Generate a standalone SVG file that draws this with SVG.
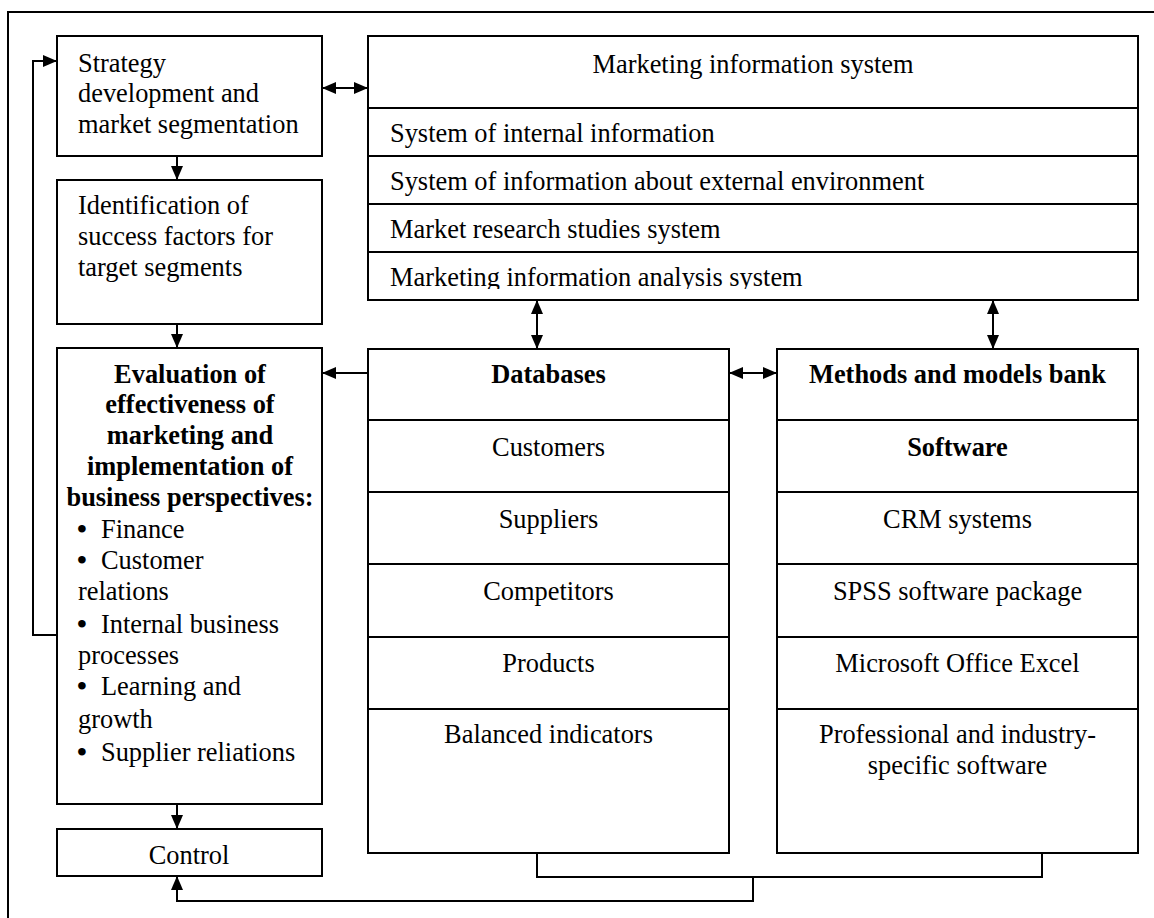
<svg xmlns="http://www.w3.org/2000/svg" width="1154" height="918" viewBox="0 0 1154 918">
<style>
  .box{fill:#fff;stroke:#000;stroke-width:2}
  .ln{stroke:#000;stroke-width:2;fill:none}
  text{font-family:"Liberation Serif","Times New Roman",serif;font-size:26.4px;fill:#000}
  .c{text-anchor:middle}
  .b{font-weight:bold}
  .bul{font-size:28px;font-weight:bold}
  .con{stroke:#000;stroke-width:2;fill:none}
  .a1{marker-end:url(#ah)}
  .a2{marker-end:url(#ah);marker-start:url(#ah)}
</style>
<defs>
  <marker id="ah" markerUnits="userSpaceOnUse" markerWidth="14" markerHeight="12" refX="14" refY="6" orient="auto-start-reverse">
    <path d="M0,0 L14,6 L0,12 z" fill="#000"/>
  </marker>
  <clipPath id="clipLast"><rect x="368" y="252" width="770" height="37"/></clipPath>
</defs>
<rect x="0" y="0" width="1154" height="918" fill="#fff"/>
<path class="ln" d="M8,918 V12 H1154"/>

<g id="strategy">
  <rect class="box" x="57" y="36" width="265" height="120"/>
  <text x="78" y="72">Strategy</text>
  <text x="78" y="102">development and</text>
  <text x="78" y="133">market segmentation</text>
</g>

<g id="identification">
  <rect class="box" x="57" y="180" width="265" height="144"/>
  <text x="78" y="214">Identification of</text>
  <text x="78" y="245">success factors for</text>
  <text x="78" y="276">target segments</text>
</g>

<g id="evaluation">
  <rect class="box" x="57" y="348" width="265" height="456"/>
  <text class="c b" x="190" y="383">Evaluation of</text>
  <text class="c b" x="190" y="413">effectiveness of</text>
  <text class="c b" x="190" y="444">marketing and</text>
  <text class="c b" x="190" y="475">implementation of</text>
  <text class="c b" x="190" y="506">business perspectives:</text>
  <text x="77" y="538"><tspan class="bul">•</tspan><tspan x="101">Finance</tspan></text>
  <text x="77" y="569"><tspan class="bul">•</tspan><tspan x="101">Customer</tspan></text>
  <text x="78" y="600">relations</text>
  <text x="77" y="633"><tspan class="bul">•</tspan><tspan x="101">Internal business</tspan></text>
  <text x="78" y="664">processes</text>
  <text x="77" y="695"><tspan class="bul">•</tspan><tspan x="101">Learning and</tspan></text>
  <text x="78" y="728">growth</text>
  <text x="77" y="761"><tspan class="bul">•</tspan><tspan x="101">Supplier reliations</tspan></text>
</g>

<g id="control">
  <rect class="box" x="57" y="829" width="265" height="47"/>
  <text class="c" x="189" y="864">Control</text>
</g>

<g id="mis">
  <rect class="box" x="368" y="36" width="770" height="264"/>
  <line class="ln" x1="368" y1="108" x2="1138" y2="108"/>
  <line class="ln" x1="368" y1="156" x2="1138" y2="156"/>
  <line class="ln" x1="368" y1="204" x2="1138" y2="204"/>
  <line class="ln" x1="368" y1="252" x2="1138" y2="252"/>
  <text class="c" x="753" y="73">Marketing information system</text>
  <text x="390" y="142">System of internal information</text>
  <text x="390" y="190">System of information about external environment</text>
  <text x="390" y="238">Market research studies system</text>
  <text x="390" y="286" clip-path="url(#clipLast)">Marketing information analysis system</text>
</g>

<g id="databases">
  <rect class="box" x="368" y="349" width="361" height="504"/>
  <line class="ln" x1="368" y1="420" x2="729" y2="420"/>
  <line class="ln" x1="368" y1="492" x2="729" y2="492"/>
  <line class="ln" x1="368" y1="564" x2="729" y2="564"/>
  <line class="ln" x1="368" y1="637" x2="729" y2="637"/>
  <line class="ln" x1="368" y1="709" x2="729" y2="709"/>
  <text class="c b" x="548.5" y="383">Databases</text>
  <text class="c" x="548.5" y="456">Customers</text>
  <text class="c" x="548.5" y="528">Suppliers</text>
  <text class="c" x="548.5" y="600">Competitors</text>
  <text class="c" x="548.5" y="672">Products</text>
  <text class="c" x="548.5" y="743">Balanced indicators</text>
</g>

<g id="methods">
  <rect class="box" x="777" y="349" width="361" height="504"/>
  <line class="ln" x1="777" y1="420" x2="1138" y2="420"/>
  <line class="ln" x1="777" y1="492" x2="1138" y2="492"/>
  <line class="ln" x1="777" y1="564" x2="1138" y2="564"/>
  <line class="ln" x1="777" y1="637" x2="1138" y2="637"/>
  <line class="ln" x1="777" y1="709" x2="1138" y2="709"/>
  <text class="c b" x="957.5" y="383">Methods and models bank</text>
  <text class="c b" x="957.5" y="456">Software</text>
  <text class="c" x="957.5" y="528">CRM systems</text>
  <text class="c" x="957.5" y="600">SPSS software package</text>
  <text class="c" x="957.5" y="672">Microsoft Office Excel</text>
  <text class="c" x="957.5" y="743">Professional and industry-</text>
  <text class="c" x="957.5" y="774">specific software</text>
</g>

<g id="connectors">
  <path class="con a2" d="M322,88 H368"/>
  <path class="con a1" d="M177,156 V180"/>
  <path class="con a1" d="M177,324 V348"/>
  <path class="con a1" d="M177,804 V829"/>
  <path class="con a1" d="M57,635 H33 V61 H57"/>
  <path class="con a1" d="M368,373 H322"/>
  <path class="con a2" d="M729,373 H777"/>
  <path class="con a2" d="M537,300 V349"/>
  <path class="con a2" d="M993,300 V349"/>
  <path class="con" d="M537,853 V877 H1042 V853"/>
  <path class="con a1" d="M753,877 V901 H177 V876"/>
</g>
</svg>
